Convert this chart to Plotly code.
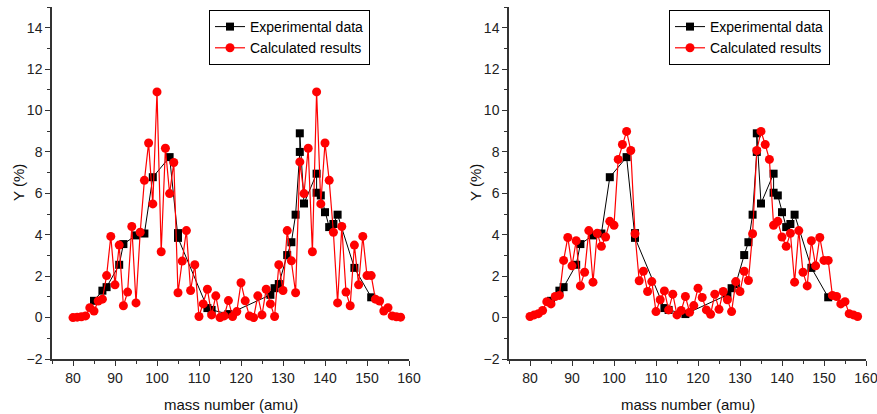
import plotly.graph_objects as go

# ---------------- data ----------------
mass_calc = list(range(80, 159))

calc_left = [0.0, 0.02, 0.04, 0.08, 0.48, 0.32, 0.8, 0.89, 2.03, 3.92,
             1.58, 3.5, 0.57, 1.23, 4.4, 0.71, 4.12, 6.63, 8.43, 5.49,
             10.9, 3.18, 8.18, 5.99, 7.49, 1.2, 2.73, 4.2, 1.31, 2.55,
             0.05, 0.66, 1.37, 0.13, 1.05, 0.0, 0.08, 0.82, 0.05, 0.29,
             1.68, 0.81, 0.08, 0.0, 1.05, 0.13, 1.37, 0.66, 0.05, 2.55,
             1.31, 4.2, 2.74, 1.2, 7.52, 5.99, 8.18, 3.18, 10.9, 5.49,
             8.43, 6.63, 4.12, 0.71, 4.4, 1.23, 0.57, 3.5, 1.58, 3.92,
             2.03, 2.03, 0.89, 0.8, 0.32, 0.48, 0.08, 0.04, 0.02]

calc_right = [0.05, 0.13, 0.19, 0.34, 0.77, 0.66, 1.02, 1.07, 2.76, 3.87,
              2.5, 3.71, 1.53, 2.19, 4.2, 1.71, 4.07, 3.44, 3.89, 4.65,
              4.46, 7.64, 8.36, 8.99, 8.07, 4.05, 1.78, 2.24, 1.26, 1.74,
              0.29, 0.86, 1.29, 0.37, 1.13, 0.13, 0.34, 1.02, 0.26, 0.58,
              1.42, 0.97, 0.37, 0.16, 1.13, 0.4, 1.26, 0.86, 0.29, 1.74,
              1.26, 2.24, 1.79, 4.05, 8.07, 8.99, 8.36, 7.64, 4.46, 4.65,
              3.89, 3.44, 4.07, 1.71, 4.2, 2.19, 1.53, 3.71, 2.5, 3.87,
              2.76, 2.76, 1.07, 1.02, 0.66, 0.77, 0.19, 0.13, 0.05]

mass_exp = [85, 87, 88, 91, 92, 95, 97, 99, 103, 105, 105,
            112, 113, 117, 127, 128, 129, 131, 132, 133, 134, 134,
            135, 138, 138, 139, 140, 141, 142, 143, 147, 151]
yield_exp = [0.81, 1.3, 1.47, 2.55, 3.55, 3.97, 4.06, 6.78, 7.75, 4.08, 3.85,
             0.46, 0.37, 0.17, 1.1, 1.42, 1.62, 3.02, 3.64, 4.97, 8.0, 8.9,
             5.51, 6.95, 6.03, 5.9, 5.09, 4.37, 4.52, 4.97, 2.4, 0.98]

x_ticks = [80, 90, 100, 110, 120, 130, 140, 150, 160]
y_ticks = [-2, 0, 2, 4, 6, 8, 10, 12, 14]
x_title = "mass number (amu)"
y_title = "Y (%)"

FONT = "Arial, 'Liberation Sans', sans-serif"

fig = go.Figure()

for i, (calc, leg) in enumerate([(calc_left, "legend"), (calc_right, "legend2")]):
    xa = "x" if i == 0 else "x2"
    ya = "y" if i == 0 else "y2"
    fig.add_trace(go.Scatter(
        x=mass_exp, y=yield_exp, mode="lines+markers", name="Experimental data",
        line=dict(color="black", width=1),
        marker=dict(symbol="square", size=8, color="black"),
        xaxis=xa, yaxis=ya, legend=leg))
    fig.add_trace(go.Scatter(
        x=mass_calc, y=calc, mode="lines+markers", name="Calculated results",
        line=dict(color="red", width=1.2),
        marker=dict(symbol="circle", size=9, color="red"),
        xaxis=xa, yaxis=ya, legend=leg))

W, H = 877, 414
xdom1 = [52 / W, 409 / W]
xdom2 = [509 / W, 866 / W]
ydom = [1 - 359 / H, 1 - 7 / H]

axis_common = dict(
    showline=True, linecolor="#333333", linewidth=1.5, mirror=False,
    ticks="outside", ticklen=5, tickwidth=1.2, tickcolor="#333333",
    showgrid=False, zeroline=False, automargin=False, ticklabeloverflow="allow",
    tickfont=dict(family=FONT, size=14, color="#222222"),
)

xaxis_common = dict(axis_common, range=[75, 160], tickvals=x_ticks,
                    minor=dict(ticks="outside", ticklen=3, tickwidth=1.2,
                               tickcolor="#333333", dtick=5, tick0=75, showgrid=False))
yaxis_common = dict(axis_common, range=[-2, 15], tickvals=y_ticks,
                    minor=dict(ticks="outside", ticklen=3, tickwidth=1.2,
                               tickcolor="#333333", dtick=1, tick0=-2, showgrid=False))

legend_common = dict(
    bordercolor="black", borderwidth=1, bgcolor="white",
    font=dict(family=FONT, size=14, color="black"),
    xanchor="left", yanchor="top", tracegroupgap=0,
)

title_font = dict(family=FONT, size=15, color="#111111")
annotations = []
for dom in (xdom1, xdom2):
    annotations.append(dict(
        text=x_title, xref="paper", yref="paper",
        x=(dom[0] + dom[1]) / 2, y=1 - 404 / H, xanchor="center", yanchor="middle",
        showarrow=False, font=title_font))
    annotations.append(dict(
        text=y_title, xref="paper", yref="paper", textangle=-90,
        x=dom[0] - 33 / W, y=(ydom[0] + ydom[1]) / 2, xanchor="center", yanchor="middle",
        showarrow=False, font=title_font))

fig.update_layout(
    width=W, height=H,
    margin=dict(l=0, r=0, t=0, b=0, autoexpand=False),
    paper_bgcolor="white", plot_bgcolor="white",
    font=dict(family=FONT),
    xaxis=dict(xaxis_common, domain=xdom1, anchor="y"),
    yaxis=dict(yaxis_common, domain=ydom, anchor="x"),
    xaxis2=dict(xaxis_common, domain=xdom2, anchor="y2"),
    yaxis2=dict(yaxis_common, domain=ydom, anchor="x2"),
    legend=dict(legend_common, x=209 / W, y=1 - 10 / H),
    legend2=dict(legend_common, x=669 / W, y=1 - 10 / H),
    annotations=annotations,
    showlegend=True,
)

fig.write_html("out.html",
               config={"displayModeBar": False},
               post_script="document.body.style.margin='0';document.body.style.overflow='hidden';")
